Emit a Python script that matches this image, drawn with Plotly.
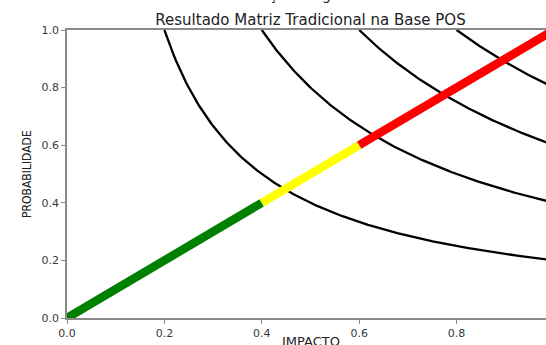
import plotly.graph_objects as go

# ---- data ----
risk_levels = [0.2, 0.4, 0.6, 0.8]          # iso-risk curves: PROBABILIDADE * IMPACTO = level
band_names = ["baixo", "medio", "alto"]
band_start = [0.0, 0.4, 0.6]
band_end = [0.4, 0.6, 1.0]
band_colors = ["#008000", "#ffff00", "#ff0000"]
tick_vals = [0.0, 0.2, 0.4, 0.6, 0.8, 1.0]
tick_text = ["0.0", "0.2", "0.4", "0.6", "0.8", "1.0"]

fig = go.Figure()

# iso-risk curves
n = 200
for c in risk_levels:
    xs = [c + (1.0 - c) * i / (n - 1) for i in range(n)]
    ys = [c / x for x in xs]
    fig.add_trace(go.Scatter(x=xs, y=ys, mode="lines",
                             line=dict(color="black", width=2.3),
                             showlegend=False, hoverinfo="skip"))

# diagonal coloured bands
for s, e, col in zip(band_start, band_end, band_colors):
    fig.add_trace(go.Scatter(x=[s, e], y=[s, e], mode="lines",
                             line=dict(color=col, width=8.5),
                             showlegend=False, hoverinfo="skip"))

axis_col = "#8a8a8a"
tick_font = dict(family="DejaVu Sans", size=11, color="#3a3a3a")

fig.update_layout(
    width=546, height=345,
    margin=dict(l=67, r=0, t=30, b=27),
    paper_bgcolor="white", plot_bgcolor="white",
    title=dict(text="Resultado Matriz Tradicional na Base POS",
               x=310.5 / 546, xanchor="center", y=1 - 20 / 345, yanchor="middle",
               font=dict(family="DejaVu Sans", size=15, color="#222222")),
    xaxis=dict(range=[0, 0.9836], tickvals=tick_vals, ticktext=tick_text,
               showgrid=False, zeroline=False, showline=True, linecolor=axis_col,
               linewidth=1.5, mirror=True, ticks="outside", ticklen=4,
               tickcolor=axis_col, tickfont=tick_font),
    yaxis=dict(range=[0, 1], tickvals=tick_vals, ticktext=tick_text,
               showgrid=False, zeroline=False, showline=True, linecolor=axis_col,
               linewidth=1.5, ticks="outside", ticklen=4,
               tickcolor=axis_col, tickfont=tick_font),
)

# partially hidden "1.0" tick label at the cut-off right edge
fig.add_annotation(x=1.0, y=0, xref="x", yref="paper", yshift=-4,
                   text="1.0", showarrow=False, yanchor="top",
                   font=tick_font)

# axis titles
fig.add_annotation(x=(310.5 - 67) / 479, y=0, xref="paper", yref="paper",
                   yshift=-14, text="IMPACTO", showarrow=False, yanchor="top",
                   font=dict(family="DejaVu Sans", size=13, color="#222222"))
fig.add_annotation(x=-40 / 479, y=0.5, xref="paper", yref="paper",
                   text="PROBABILIDADE", showarrow=False, textangle=-90,
                   xanchor="center", yanchor="middle",
                   font=dict(family="DejaVu Sans Condensed, Liberation Sans Narrow, Roboto Condensed, Roboto, sans-serif",
                             size=12, color="#222222"))

# cropped caption text above the figure (only its lowest edge is visible)
fig.add_annotation(x=-37 / 479, y=(318 - 5.5) / 288, xref="paper", yref="paper",
                   text="Gráfico 5 - Resultado da classificação Irregular",
                   showarrow=False, xanchor="left", yanchor="bottom",
                   font=dict(family="DejaVu Sans", size=14, color="#222222"))

fig.write_html("out.html")
